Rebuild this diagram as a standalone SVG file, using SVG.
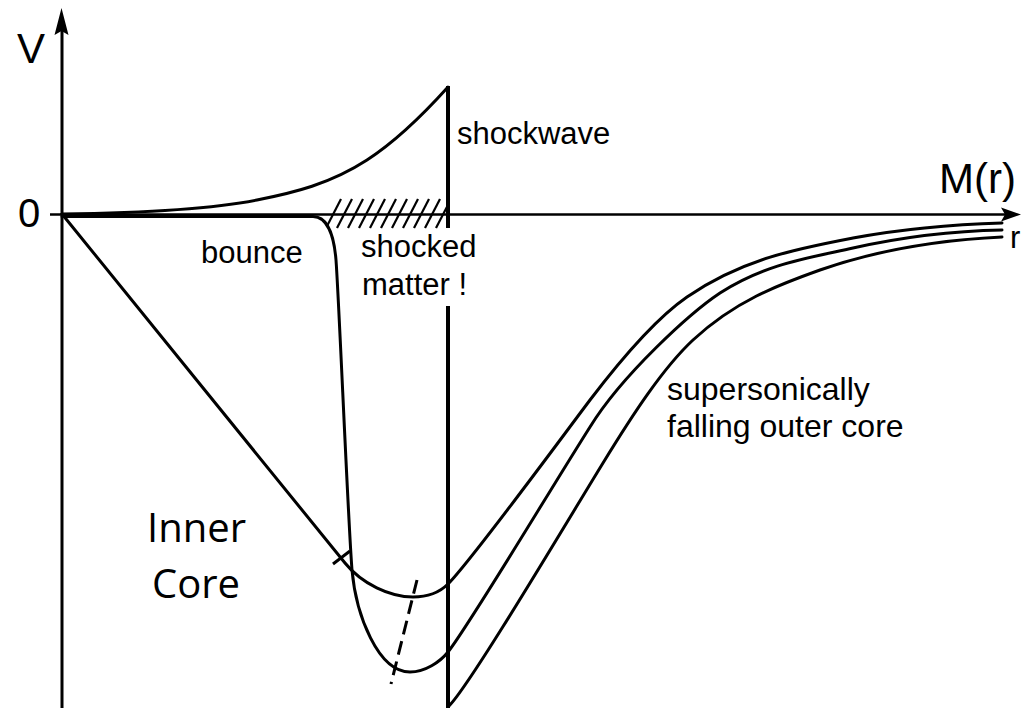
<svg xmlns="http://www.w3.org/2000/svg" width="1022" height="708" viewBox="0 0 1022 708">
<style>
.ln{fill:none;stroke:#000;stroke-width:3;stroke-linejoin:round;stroke-linecap:round}
.ax{fill:none;stroke:#000;stroke-width:2.5}
.lab{font-family:"Liberation Sans",Arial,sans-serif;fill:#000}
.cal{font-family:"Open Sans","Noto Sans",sans-serif;fill:#000}
.hat{stroke:#000;stroke-width:2.2}
</style>
<defs>
<clipPath id="hc"><rect x="327" y="198" width="121" height="31"/></clipPath>
</defs>
<rect width="1022" height="708" fill="#fff"/>
<g id="axes">
<line class="ax" x1="62" y1="30" x2="62" y2="708" style="stroke-width:3"/>
<polygon points="61.5,8 54.5,35 61.5,31 68.5,35" fill="#000"/>
<line class="ax" x1="50" y1="214.5" x2="1008" y2="214.5"/>
<polygon points="1021,214.5 1001,207.5 1005,214.5 1001,221.5" fill="#000"/>
</g>
<g id="hatch" clip-path="url(#hc)">
<line class="hat" x1="326" y1="228" x2="341" y2="199"/>
<line class="hat" x1="337" y1="228" x2="352" y2="199"/>
<line class="hat" x1="348" y1="228" x2="363" y2="199"/>
<line class="hat" x1="359" y1="228" x2="374" y2="199"/>
<line class="hat" x1="370" y1="228" x2="385" y2="199"/>
<line class="hat" x1="381" y1="228" x2="396" y2="199"/>
<line class="hat" x1="392" y1="228" x2="407" y2="199"/>
<line class="hat" x1="403" y1="228" x2="418" y2="199"/>
<line class="hat" x1="414" y1="228" x2="429" y2="199"/>
<line class="hat" x1="425" y1="228" x2="440" y2="199"/>
<line class="hat" x1="436" y1="228" x2="451" y2="199"/>
</g>
<g id="curves">
<path id="shock-profile" class="ln" d="M62,214 C130,213 207,210 257,200 C294,192.6 330,184 367,160 C394,142.5 421,117 448,87"/>
<path id="infall" class="ln" d="M62,214 L345,563 C362,584 390,597 413,597 C428,597 440,592 448,584 C470,562 545,460 590,400 C622,358 655,319 687,297 C742,259 798,248.5 853,238 C902,229 951,224.5 1002,223"/>
<path id="bounce-curve" class="ln" d="M62,216.5 L313,216.5 C327,216.5 334,235 336,260 C339,300 348,520 352,570 C356,615 378,672 410,672 C425,672 440,662 448,652 C470,624 550,490 590,427 C622,375 690,313 720,293 C765,264 808,258 853,248 C902,237 950,231 1002,230"/>
<path id="outer" class="ln" d="M449,706 C470,685 565,525 603,463 C633,414 663,368 693,340 C735,301 778,285 820,270 C880,249 940,240 1002,237"/>
<line id="shock-upper" x1="448" y1="86" x2="448" y2="228" stroke="#000" stroke-width="4"/>
<line id="shock-lower" x1="448" y1="306" x2="448" y2="708" stroke="#000" stroke-width="4"/>
<line id="minima" x1="417" y1="580" x2="391" y2="684" stroke="#000" stroke-width="3" stroke-dasharray="14 7"/>
<line id="tick" x1="333" y1="564" x2="350" y2="551" stroke="#000" stroke-width="3"/>
</g>
<g id="labels">
<text class="lab" x="17" y="63" font-size="42">V</text>
<text class="lab" x="18" y="227" font-size="40">0</text>
<text class="lab" x="939" y="193" font-size="42">M(r)</text>
<text class="lab" x="1010" y="248" font-size="31">r</text>
<text class="lab" x="457" y="144" font-size="31">shockwave</text>
<text class="lab" x="201" y="263" font-size="31">bounce</text>
<text class="lab" x="361" y="257" font-size="31">shocked</text>
<text class="lab" x="362" y="295" font-size="31">matter !</text>
<text class="lab" x="667" y="400" font-size="32">supersonically</text>
<text class="lab" x="667" y="437" font-size="32">falling outer core</text>
<text class="cal" x="147" y="542" font-size="40">Inner</text>
<text class="cal" x="152" y="598" font-size="40">Core</text>
</g>
</svg>
